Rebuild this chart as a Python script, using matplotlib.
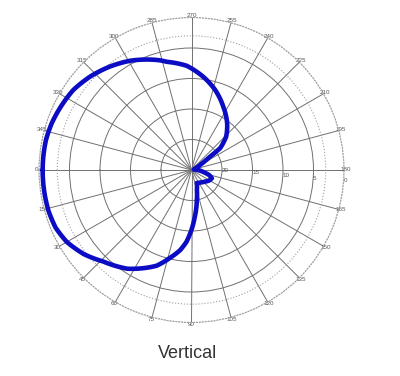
import numpy as np
import matplotlib
matplotlib.use("Agg")
import matplotlib.pyplot as plt

# pattern: angle (deg) and level (dB)
angles_deg = [0, 8, 16, 23, 30, 38, 46, 57, 62, 70, 76, 82, 86, 90, 94, 100,
              105, 112, 125, 139, 150, 158, 164, 170, 180, 192, 205, 211, 214,
              215.7, 217.3, 224, 232.5, 243.3, 253.6, 262.8, 272.6, 282.9, 286,
              299.4, 308.3, 317.4, 325.9, 334, 341.5, 348.3, 354.9, 360]
gain_db = [-0.6, -0.6, -0.62, -0.8, -1.4, -2.6, -4.15, -5.7, -6.7, -8.3, -10.1,
           -11.75, -13.2, -15.2, -17.3, -20.0, -21.6, -22.7, -22.5, -22.1, -21.6,
           -21.4, -22.0, -23.0, -24.0, -24.6, -24.2, -23.3, -22.2, -21.3, -19.1,
           -17.1, -15.4, -13.4, -11.3, -9.6, -7.9, -6.8, -6.3, -4.45, -3.4, -2.4,
           -1.6, -1.2, -0.84, -0.64, -0.61, -0.6]

theta_ticks = [0, 15, 30, 45, 60, 75, 90, 105, 120, 135, 150, 165, 180, 195,
               210, 225, 240, 255, 270, 285, 300, 315, 330, 345]
theta_labels = ["0", "15", "30", "45", "60", "75", "90", "105", "120", "135",
                "150", "165", "180", "195", "210", "225", "240", "255", "270",
                "285", "300", "315", "330", "345"]
r_ticks = [-20, -15, -10, -5, -3, 0]
r_labels = ["20", "15", "10", "5", "", "0"]

plt.rcParams['font.family'] = ['Liberation Sans', 'DejaVu Sans']

fig = plt.figure(figsize=(4.0, 3.76), dpi=100)
fig.patch.set_facecolor('white')
ax = fig.add_axes([0.0975, 0.1423, 0.7625, 0.8112], projection='polar')
ax.set_theta_zero_location('W')
ax.set_theta_direction(1)
ax.set_ylim(-25, 0)

ax.set_thetagrids(theta_ticks, theta_labels)
ax.set_rgrids(r_ticks, r_labels)
ax.set_rlabel_position(175)
ax.tick_params(axis='x', labelsize=4.5, labelcolor='#555555', pad=-9)
ax.tick_params(axis='y', labelsize=4.5, labelcolor='#555555')

ax.grid(True, color='#707070', linewidth=0.7, linestyle='-')
for i, gl in enumerate(ax.yaxis.get_gridlines()):
    if r_ticks[i] in (-3, 0):
        gl.set_linestyle(':')
        gl.set_color('#a0a0a0')
        gl.set_linewidth(0.8)
ax.spines['polar'].set_linestyle(':')
ax.spines['polar'].set_color('#a0a0a0')
ax.spines['polar'].set_linewidth(0.8)

line, = ax.plot(np.radians(angles_deg), gain_db, color='#0c0cc4', linewidth=3.3,
                solid_capstyle='round', solid_joinstyle='round', zorder=5)
line.get_path()._interpolation_steps = 20  # follow the polar arcs

fig.text(0.47, 1 - 353 / 376, "Vertical", ha='center', va='center',
         fontsize=13, color='#333333')

fig.savefig("out.png", dpi=100, facecolor='white')
